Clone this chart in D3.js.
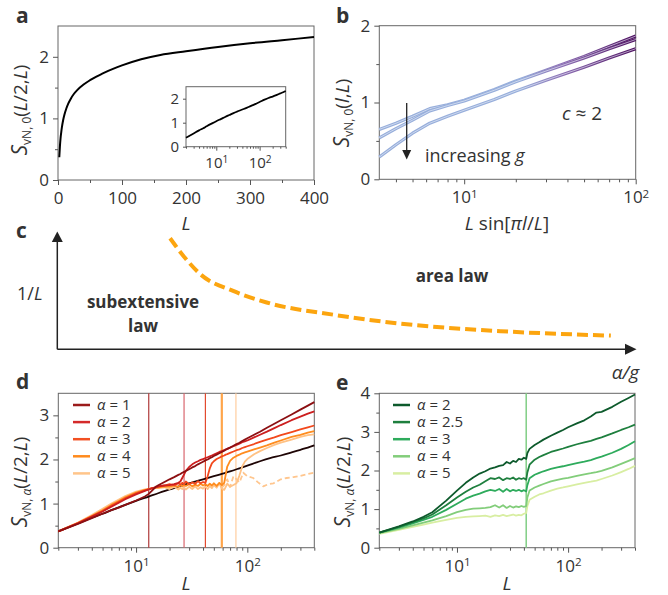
<!DOCTYPE html>
<html>
<head>
<meta charset="utf-8">
<script src="https://cdn.jsdelivr.net/npm/d3@7"></script>
<style>
  body { margin: 0; background: #fff; }
  text { font-family: "Open Sans", sans-serif; fill: #333; }
</style>
</head>
<body>
<svg width="668" height="595"></svg>
<script>
// ---------- DATA ----------
// panel a (also black curve of panel d): S_vN,0(L/2,L) vs L
const aL = [2, 3, 4, 5, 6, 8, 10, 13, 16, 20, 25, 30, 40, 50, 60, 70, 85, 100, 130, 160, 200, 250, 300, 350, 400];
const aS = [0.37, 0.55, 0.68, 0.77, 0.85, 0.97, 1.06, 1.16, 1.24, 1.32, 1.40, 1.46, 1.55, 1.62, 1.68, 1.73, 1.80, 1.86, 1.96, 2.03, 2.09, 2.16, 2.22, 2.27, 2.32];

// panel b: S_vN,0(l,L) vs L sin[pi l/L], three g values
const bX = [3.2, 4, 5, 6.3, 8, 10, 15, 20, 30, 50, 70, 100];
const bTop = [0.65, 0.73, 0.82, 0.92, 0.97, 1.03, 1.17, 1.28, 1.42, 1.60, 1.73, 1.865];
const bMid = [0.54, 0.66, 0.77, 0.89, 0.96, 1.02, 1.16, 1.27, 1.41, 1.58, 1.70, 1.82];
const bBot = [0.29, 0.45, 0.60, 0.73, 0.82, 0.90, 1.04, 1.15, 1.29, 1.46, 1.58, 1.70];

// panel c: boundary sketch (alpha/g, 1/L) in axis units 0..1
const cX = [0.195, 0.221, 0.247, 0.304, 0.362, 0.477, 0.594, 0.767, 0.957];
const cY = [0.949, 0.780, 0.643, 0.499, 0.400, 0.296, 0.219, 0.155, 0.117];

// panel d: S_vN,alpha(L/2,L)
const dL = [2, 3, 4, 5, 6, 7, 8, 10, 12, 13, 14, 15, 16, 18, 20, 22, 24, 25, 26, 27, 28, 30, 32, 34, 36, 38, 40, 42, 44, 46, 48, 50, 53, 56, 59, 62, 64, 66, 70, 75, 80, 85, 90, 95, 100, 115, 130, 150, 175, 200, 250, 300, 350, 400];
const dA1 = [0.37, 0.54, 0.67, 0.77, 0.85, 0.91, 0.97, 1.07, 1.16, 1.22, 1.30, 1.38, 1.42, 1.49, 1.55, 1.60, 1.65, 1.67, 1.70, 1.72, 1.74, 1.78, 1.82, 1.85, 1.89, 1.92, 1.95, 1.98, 2.00, 2.03, 2.05, 2.08, 2.11, 2.14, 2.17, 2.20, 2.22, 2.24, 2.27, 2.31, 2.35, 2.38, 2.42, 2.45, 2.48, 2.56, 2.63, 2.72, 2.81, 2.89, 3.02, 3.13, 3.22, 3.30];
const dA2 = [0.37, 0.55, 0.70, 0.82, 0.93, 1.02, 1.10, 1.21, 1.29, 1.32, 1.35, 1.37, 1.39, 1.41, 1.42, 1.44, 1.47, 1.50, 1.58, 1.66, 1.74, 1.83, 1.89, 1.93, 1.96, 1.99, 2.01, 2.03, 2.05, 2.07, 2.09, 2.11, 2.14, 2.17, 2.19, 2.21, 2.23, 2.24, 2.27, 2.30, 2.33, 2.36, 2.39, 2.41, 2.43, 2.50, 2.56, 2.63, 2.71, 2.78, 2.89, 2.97, 3.04, 3.09];
const dA3 = [0.37, 0.56, 0.71, 0.83, 0.95, 1.04, 1.12, 1.23, 1.30, 1.33, 1.35, 1.37, 1.39, 1.41, 1.44, 1.41, 1.46, 1.43, 1.47, 1.44, 1.50, 1.44, 1.48, 1.45, 1.51, 1.46, 1.49, 1.47, 1.62, 1.80, 1.91, 1.96, 2.01, 2.04, 2.07, 2.09, 2.11, 2.12, 2.15, 2.18, 2.21, 2.23, 2.26, 2.28, 2.30, 2.35, 2.40, 2.45, 2.50, 2.55, 2.62, 2.68, 2.73, 2.77];
const dA4 = [0.37, 0.56, 0.72, 0.85, 0.97, 1.06, 1.14, 1.25, 1.31, 1.33, 1.35, 1.36, 1.37, 1.39, 1.38, 1.41, 1.38, 1.42, 1.39, 1.43, 1.40, 1.44, 1.39, 1.43, 1.40, 1.45, 1.41, 1.44, 1.40, 1.45, 1.41, 1.46, 1.40, 1.47, 1.42, 1.47, 1.66, 1.84, 1.97, 2.04, 2.08, 2.11, 2.14, 2.16, 2.18, 2.23, 2.27, 2.32, 2.38, 2.43, 2.51, 2.56, 2.61, 2.64];
const dA5 = [0.37, 0.57, 0.74, 0.88, 1.00, 1.09, 1.17, 1.27, 1.32, 1.33, 1.34, 1.35, 1.35, 1.37, 1.33, 1.38, 1.32, 1.36, 1.33, 1.37, 1.32, 1.38, 1.33, 1.39, 1.33, 1.37, 1.34, 1.38, 1.33, 1.40, 1.35, 1.42, 1.36, 1.46, 1.34, 1.31, 1.38, 1.45, 1.38, 1.42, 1.46, 1.64, 1.84, 1.95, 2.01, 2.12, 2.19, 2.26, 2.33, 2.38, 2.45, 2.51, 2.55, 2.57];
// dashed branch for alpha = 5
const dDashL = [59, 62, 66, 70, 75, 80, 85, 92, 100, 113, 125, 139, 155, 172, 200, 226, 260, 300, 350, 400];
const dDashS = [1.36, 1.42, 1.55, 1.38, 1.62, 1.55, 1.48, 1.70, 1.62, 1.58, 1.48, 1.39, 1.44, 1.46, 1.55, 1.58, 1.60, 1.63, 1.67, 1.70];
const dLabels = ["1", "2", "3", "4", "5"];
const dVLines = [13, 27, 42, 59, 79];

// panel e
const eL = [2, 3, 4, 5, 6, 8, 10, 12, 14, 16, 18, 20, 22, 24, 26, 28, 30, 32, 34, 36, 38, 40, 42, 43, 45, 50, 55, 60, 70, 80, 90, 100, 120, 140, 160, 180, 200, 250, 300, 350, 400];
const eA2 = [0.39, 0.55, 0.68, 0.80, 0.92, 1.22, 1.48, 1.68, 1.82, 1.92, 1.98, 2.05, 2.08, 2.12, 2.14, 2.22, 2.18, 2.25, 2.22, 2.30, 2.28, 2.33, 2.30, 2.45, 2.56, 2.66, 2.73, 2.80, 2.90, 2.98, 3.05, 3.12, 3.22, 3.30, 3.40, 3.50, 3.52, 3.65, 3.78, 3.88, 3.97];
const eA25 = [0.39, 0.54, 0.66, 0.76, 0.86, 1.10, 1.30, 1.45, 1.56, 1.63, 1.72, 1.80, 1.78, 1.82, 1.75, 1.80, 1.78, 1.82, 1.76, 1.80, 1.78, 1.80, 1.76, 1.95, 2.15, 2.28, 2.35, 2.40, 2.48, 2.53, 2.57, 2.61, 2.68, 2.73, 2.77, 2.82, 2.86, 2.96, 3.05, 3.12, 3.19];
const eA3 = [0.39, 0.52, 0.63, 0.72, 0.80, 0.98, 1.14, 1.27, 1.35, 1.40, 1.46, 1.50, 1.47, 1.52, 1.45, 1.52, 1.46, 1.50, 1.47, 1.50, 1.46, 1.49, 1.46, 1.62, 1.80, 1.89, 1.94, 1.98, 2.04, 2.08, 2.11, 2.14, 2.19, 2.23, 2.27, 2.32, 2.36, 2.46, 2.56, 2.66, 2.76];
const eA4 = [0.38, 0.49, 0.58, 0.65, 0.71, 0.82, 0.92, 0.98, 1.01, 1.02, 1.03, 1.05, 1.10, 1.04, 1.10, 1.03, 1.08, 1.04, 1.07, 1.05, 1.08, 1.06, 1.08, 1.30, 1.48, 1.56, 1.61, 1.65, 1.72, 1.76, 1.79, 1.81, 1.86, 1.90, 1.93, 1.96, 1.99, 2.08, 2.17, 2.25, 2.32];
const eA5 = [0.36, 0.46, 0.54, 0.60, 0.65, 0.72, 0.77, 0.80, 0.81, 0.82, 0.83, 0.80, 0.84, 0.82, 0.85, 0.82, 0.84, 0.86, 0.83, 0.85, 0.84, 0.88, 0.90, 1.08, 1.24, 1.32, 1.38, 1.41, 1.48, 1.53, 1.56, 1.59, 1.64, 1.68, 1.71, 1.74, 1.78, 1.87, 1.96, 2.04, 2.12];
const eLabels = ["2", "2.5", "3", "4", "5"];
const eVLine = 42;

// ---------- HELPERS ----------
const svg = d3.select("svg");
const tickCol = "#555";

function styleAxis(g, size) {
  g.attr("font-family", null).attr("font-size", null);
  g.select(".domain").remove();
  g.selectAll(".tick line").attr("stroke", tickCol);
  g.selectAll(".tick text").attr("font-size", size).attr("fill", "#333");
}

function box(x, y, fill) {
  svg.append("rect")
    .attr("x", x.range()[0]).attr("y", y.range()[1])
    .attr("width", x.range()[1] - x.range()[0])
    .attr("height", y.range()[0] - y.range()[1])
    .attr("fill", fill || "none").attr("stroke", "#666").attr("stroke-width", 1);
}

function logMinor(dom) {
  const out = [];
  for (let p = 0; p < 4; p++)
    for (let m = 2; m < 10; m++) {
      const v = m * Math.pow(10, p);
      if (v >= dom[0] && v <= dom[1]) out.push(v);
    }
  return out;
}

function xAxis(x, y0, major, minor, fmt, size, big, small, pad) {
  const gm = svg.append("g").attr("transform", `translate(0,${y0})`)
    .call(d3.axisBottom(x).tickValues(minor).tickSize(small).tickFormat(""));
  styleAxis(gm, size);
  const g = svg.append("g").attr("transform", `translate(0,${y0})`)
    .call(d3.axisBottom(x).tickValues(major).tickSize(big).tickPadding(pad).tickFormat(fmt));
  styleAxis(g, size);
  return g;
}

function yAxis(x0, y, major, minor, size, big, small) {
  const gm = svg.append("g").attr("transform", `translate(${x0},0)`)
    .call(d3.axisLeft(y).tickValues(minor).tickSize(small).tickFormat(""));
  styleAxis(gm, size);
  const g = svg.append("g").attr("transform", `translate(${x0},0)`)
    .call(d3.axisLeft(y).tickValues(major).tickSize(big).tickPadding(4).tickFormat(d3.format("d")));
  styleAxis(g, size);
}

function powLabels(g) {
  g.selectAll(".tick text").each(function(d) {
    const t = d3.select(this).text("");
    t.append("tspan").text("10");
    t.append("tspan").attr("dy", "-0.5em").attr("font-size", "0.68em").text(Math.round(Math.log10(d)));
  });
}

function yLabel(bx, cy, sub, subItalic, args) {
  const t = svg.append("text")
    .attr("transform", `translate(${bx},${cy}) rotate(-90)`)
    .attr("text-anchor", "middle").attr("font-size", 19);
  t.append("tspan").attr("font-style", "italic").attr("font-size", 21).text("S");
  t.append("tspan").attr("font-size", 12).attr("dy", 4).text("vN, ");
  t.append("tspan").attr("font-size", 12).attr("font-style", subItalic ? "italic" : null).text(sub);
  t.append("tspan").attr("dy", -4).text("(");
  args.forEach(a => t.append("tspan").attr("font-style", a.it ? "italic" : null).text(a.s));
  t.append("tspan").text(")");
}

function panelLetter(s, x, y) {
  svg.append("text").attr("x", x).attr("y", y).attr("font-size", 21)
    .attr("font-weight", "bold").attr("fill", "#222").text(s);
}

function curve(x, y, xs, ys, color, width, dash, smooth) {
  const line = d3.line()
    .defined(d => d[1] != null)
    .x(d => x(d[0])).y(d => y(d[1]));
  if (smooth) line.curve(d3.curveMonotoneX);
  return svg.append("path").datum(d3.zip(xs, ys))
    .attr("d", line).attr("fill", "none")
    .attr("stroke", color).attr("stroke-width", width)
    .attr("stroke-dasharray", dash || null)
    .attr("stroke-linejoin", "round");
}

function legend(x0, labels, colors) {
  labels.forEach((s, i) => {
    const yy = 405 + i * 17.1;
    svg.append("line").attr("x1", x0).attr("x2", x0 + 17).attr("y1", yy).attr("y2", yy)
      .attr("stroke", colors[i]).attr("stroke-width", 2.5);
    const t = svg.append("text").attr("x", x0 + 24).attr("y", yy + 5).attr("font-size", 15);
    t.append("tspan").attr("font-style", "italic").text("α");
    t.append("tspan").text(" = " + s);
  });
}

// ---------- PANEL a ----------
const xA = d3.scaleLinear().domain([0, 400]).range([58, 314]);
const yA = d3.scaleLinear().domain([0, 2.5]).range([180, 26]);
box(xA, yA);
xAxis(xA, 180, [0, 100, 200, 300, 400], [50, 150, 250, 350], d3.format("d"), 17, 5, 3, 7);
yAxis(58, yA, [0, 1, 2], [0.5, 1.5], 17, 5, 3);
curve(xA, yA, aL, aS, "#000", 2, null, true);
yLabel(27, 110, "0", false, [{s: "L", it: true}, {s: "/2,"}, {s: "L", it: true}]);
svg.append("text").attr("x", 186).attr("y", 230).attr("text-anchor", "middle")
  .attr("font-size", 19).attr("font-style", "italic").text("L");
panelLetter("a", 16, 23);

// inset
const xI = d3.scaleLog().domain([2, 400]).range([186, 285.7]);
const yI = d3.scaleLinear().domain([0, 2.5]).range([146.7, 86.7]);
box(xI, yI, "#fff");
powLabels(xAxis(xI, 146.7, [10, 100], logMinor([2, 400]), d => d, 15, 4, 2, 7));
yAxis(186, yI, [0, 1, 2], [], 15, 3, 0);
curve(xI, yI, aL, aS, "#000", 1.8, null, true);

// ---------- PANEL b ----------
const xB = d3.scaleLog().domain([3.2, 100]).range([379.3, 635.7]);
const yB = d3.scaleLinear().domain([0, 2]).range([179.3, 25.7]);
box(xB, yB);
powLabels(xAxis(xB, 179.3, [10, 100], logMinor([3.2, 100]), d => d, 17, 5, 3, 7));
yAxis(379.3, yB, [0, 1, 2], [0.5, 1.5], 17, 5, 3);

const grad = svg.append("defs").append("linearGradient").attr("id", "bgrad")
  .attr("gradientUnits", "userSpaceOnUse")
  .attr("x1", xB.range()[0]).attr("x2", xB.range()[1]).attr("y1", 0).attr("y2", 0);
[[0, "#97aedb"], [0.55, "#97aedb"], [0.72, "#8b6cb2"], [1, "#4e0f60"]]
  .forEach(s => grad.append("stop").attr("offset", s[0]).attr("stop-color", s[1]));
[bTop, bMid, bBot].forEach(ys => {
  curve(xB, yB, bX, ys, "url(#bgrad)", 3.2, null, false);
  curve(xB, yB, bX, ys, "#eef2fa", 0.9, null, false).attr("opacity", 0.7);
});
yLabel(349, 113, "0", false, [{s: "l", it: true}, {s: ","}, {s: "L", it: true}]);
{
  const t = svg.append("text").attr("x", 507).attr("y", 230).attr("text-anchor", "middle").attr("font-size", 19);
  t.append("tspan").attr("font-style", "italic").text("L");
  t.append("tspan").text(" sin[");
  t.append("tspan").attr("font-style", "italic").text("πl");
  t.append("tspan").text("/");
  t.append("tspan").attr("font-style", "italic").text("L");
  t.append("tspan").text("]");
}
// arrow + annotations
svg.append("line").attr("x1", 406.7).attr("x2", 406.7).attr("y1", 103).attr("y2", 151)
  .attr("stroke", "#222").attr("stroke-width", 1.3);
svg.append("path").attr("d", "M402.2,150 L411.2,150 L406.7,159.5 Z").attr("fill", "#222");
{
  const t = svg.append("text").attr("x", 425).attr("y", 162).attr("font-size", 18);
  t.append("tspan").text("increasing ");
  t.append("tspan").attr("font-style", "italic").text("g");
  const c = svg.append("text").attr("x", 562).attr("y", 120).attr("font-size", 19);
  c.append("tspan").attr("font-style", "italic").text("c");
  c.append("tspan").text(" ≈ 2");
}
panelLetter("b", 336, 23);

// ---------- PANEL c ----------
const xC = d3.scaleLinear().domain([0, 1]).range([57.3, 635.7]);
const yC = d3.scaleLinear().domain([0, 1]).range([349.3, 232.3]);
svg.append("line").attr("x1", 57.3).attr("x2", 627).attr("y1", 349.3).attr("y2", 349.3)
  .attr("stroke", "#222").attr("stroke-width", 1.5);
svg.append("line").attr("x1", 57.3).attr("x2", 57.3).attr("y1", 349.3).attr("y2", 240)
  .attr("stroke", "#222").attr("stroke-width", 1.5);
svg.append("path").attr("d", "M625,343.8 L636.5,349.3 L625,354.8 Z").attr("fill", "#222");
svg.append("path").attr("d", "M51.8,242 L57.3,231.5 L62.8,242 Z").attr("fill", "#222");
curve(xC, yC, cX, cY, "#fca50f", 4, "11,5", true);
{
  const t = svg.append("text").attr("x", 17).attr("y", 300).attr("font-size", 18);
  t.append("tspan").text("1/");
  t.append("tspan").attr("font-style", "italic").text("L");
  svg.append("text").attr("x", 143).attr("y", 307.7).attr("text-anchor", "middle")
    .attr("font-size", 17).attr("font-weight", "bold").text("subextensive");
  svg.append("text").attr("x", 143).attr("y", 332).attr("text-anchor", "middle")
    .attr("font-size", 17).attr("font-weight", "bold").text("law");
  svg.append("text").attr("x", 452).attr("y", 281.7).attr("text-anchor", "middle")
    .attr("font-size", 17).attr("font-weight", "bold").text("area law");
  const ag = svg.append("text").attr("x", 639).attr("y", 379).attr("text-anchor", "end")
    .attr("font-size", 19).attr("font-style", "italic");
  ag.append("tspan").text("α/g");
}
panelLetter("c", 16, 238);

// ---------- PANEL d ----------
const xD = d3.scaleLog().domain([2, 400]).range([58.3, 314.3]);
const yD = d3.scaleLinear().domain([0, 3.5]).range([547.7, 393.3]);
box(xD, yD);
powLabels(xAxis(xD, 547.7, [10, 100], logMinor([2, 400]), d => d, 17, 5, 3, 7));
yAxis(58.3, yD, [0, 1, 2, 3], [0.5, 1.5, 2.5], 17, 5, 3);
const dVCols = ["#b03a3a", "#d9666e", "#e24a2e", "#ffa54a", "#ffcd9e"];
const dVW = [1.2, 1.2, 1.2, 2.2, 1.2];
dVLines.forEach((v, i) => {
  svg.append("line").attr("x1", xD(v)).attr("x2", xD(v)).attr("y1", yD.range()[1]).attr("y2", yD.range()[0])
    .attr("stroke", dVCols[i]).attr("stroke-width", dVW[i]);
});
const dCols = ["#8c0f12", "#cc1f1f", "#f2481c", "#ff8c1e", "#ffc285"];
curve(xD, yD, aL, aS, "#1e0505", 1.8, null, true);
curve(xD, yD, dDashL, dDashS, "#ffc68e", 1.8, "5,3", false);
[dA5, dA4, dA3, dA2, dA1].forEach((ys, k) => {
  curve(xD, yD, dL, ys, dCols[4 - k], 1.8, null, false);
});
legend(73, dLabels, ["#9b1b1b", "#d42a2a", "#f25022", "#ff8a1c", "#ffc58a"]);
yLabel(27, 482, "α", true, [{s: "L", it: true}, {s: "/2,"}, {s: "L", it: true}]);
svg.append("text").attr("x", 186).attr("y", 590).attr("text-anchor", "middle")
  .attr("font-size", 19).attr("font-style", "italic").text("L");
panelLetter("d", 16, 389);

// ---------- PANEL e ----------
const xE = d3.scaleLog().domain([2, 400]).range([379.3, 635]);
const yE = d3.scaleLinear().domain([0, 4]).range([547.7, 393.3]);
box(xE, yE);
powLabels(xAxis(xE, 547.7, [10, 100], logMinor([2, 400]), d => d, 17, 5, 3, 7));
yAxis(379.3, yE, [0, 1, 2, 3, 4], [0.5, 1.5, 2.5, 3.5], 17, 5, 3);
svg.append("line").attr("x1", xE(eVLine)).attr("x2", xE(eVLine))
  .attr("y1", yE.range()[1]).attr("y2", yE.range()[0])
  .attr("stroke", "#86d08a").attr("stroke-width", 1.6);
const eCols = ["#0d5a2c", "#1e7f3e", "#2eab5c", "#82cd7a", "#d8eea2"];
[eA5, eA4, eA3, eA25, eA2].forEach((ys, k) => {
  curve(xE, yE, eL, ys, eCols[4 - k], 1.8, null, false);
});
legend(393, eLabels, eCols);
yLabel(350, 482, "α", true, [{s: "L", it: true}, {s: "/2,"}, {s: "L", it: true}]);
svg.append("text").attr("x", 507).attr("y", 590).attr("text-anchor", "middle")
  .attr("font-size", 19).attr("font-style", "italic").text("L");
panelLetter("e", 336, 390);
</script>
</body>
</html>
